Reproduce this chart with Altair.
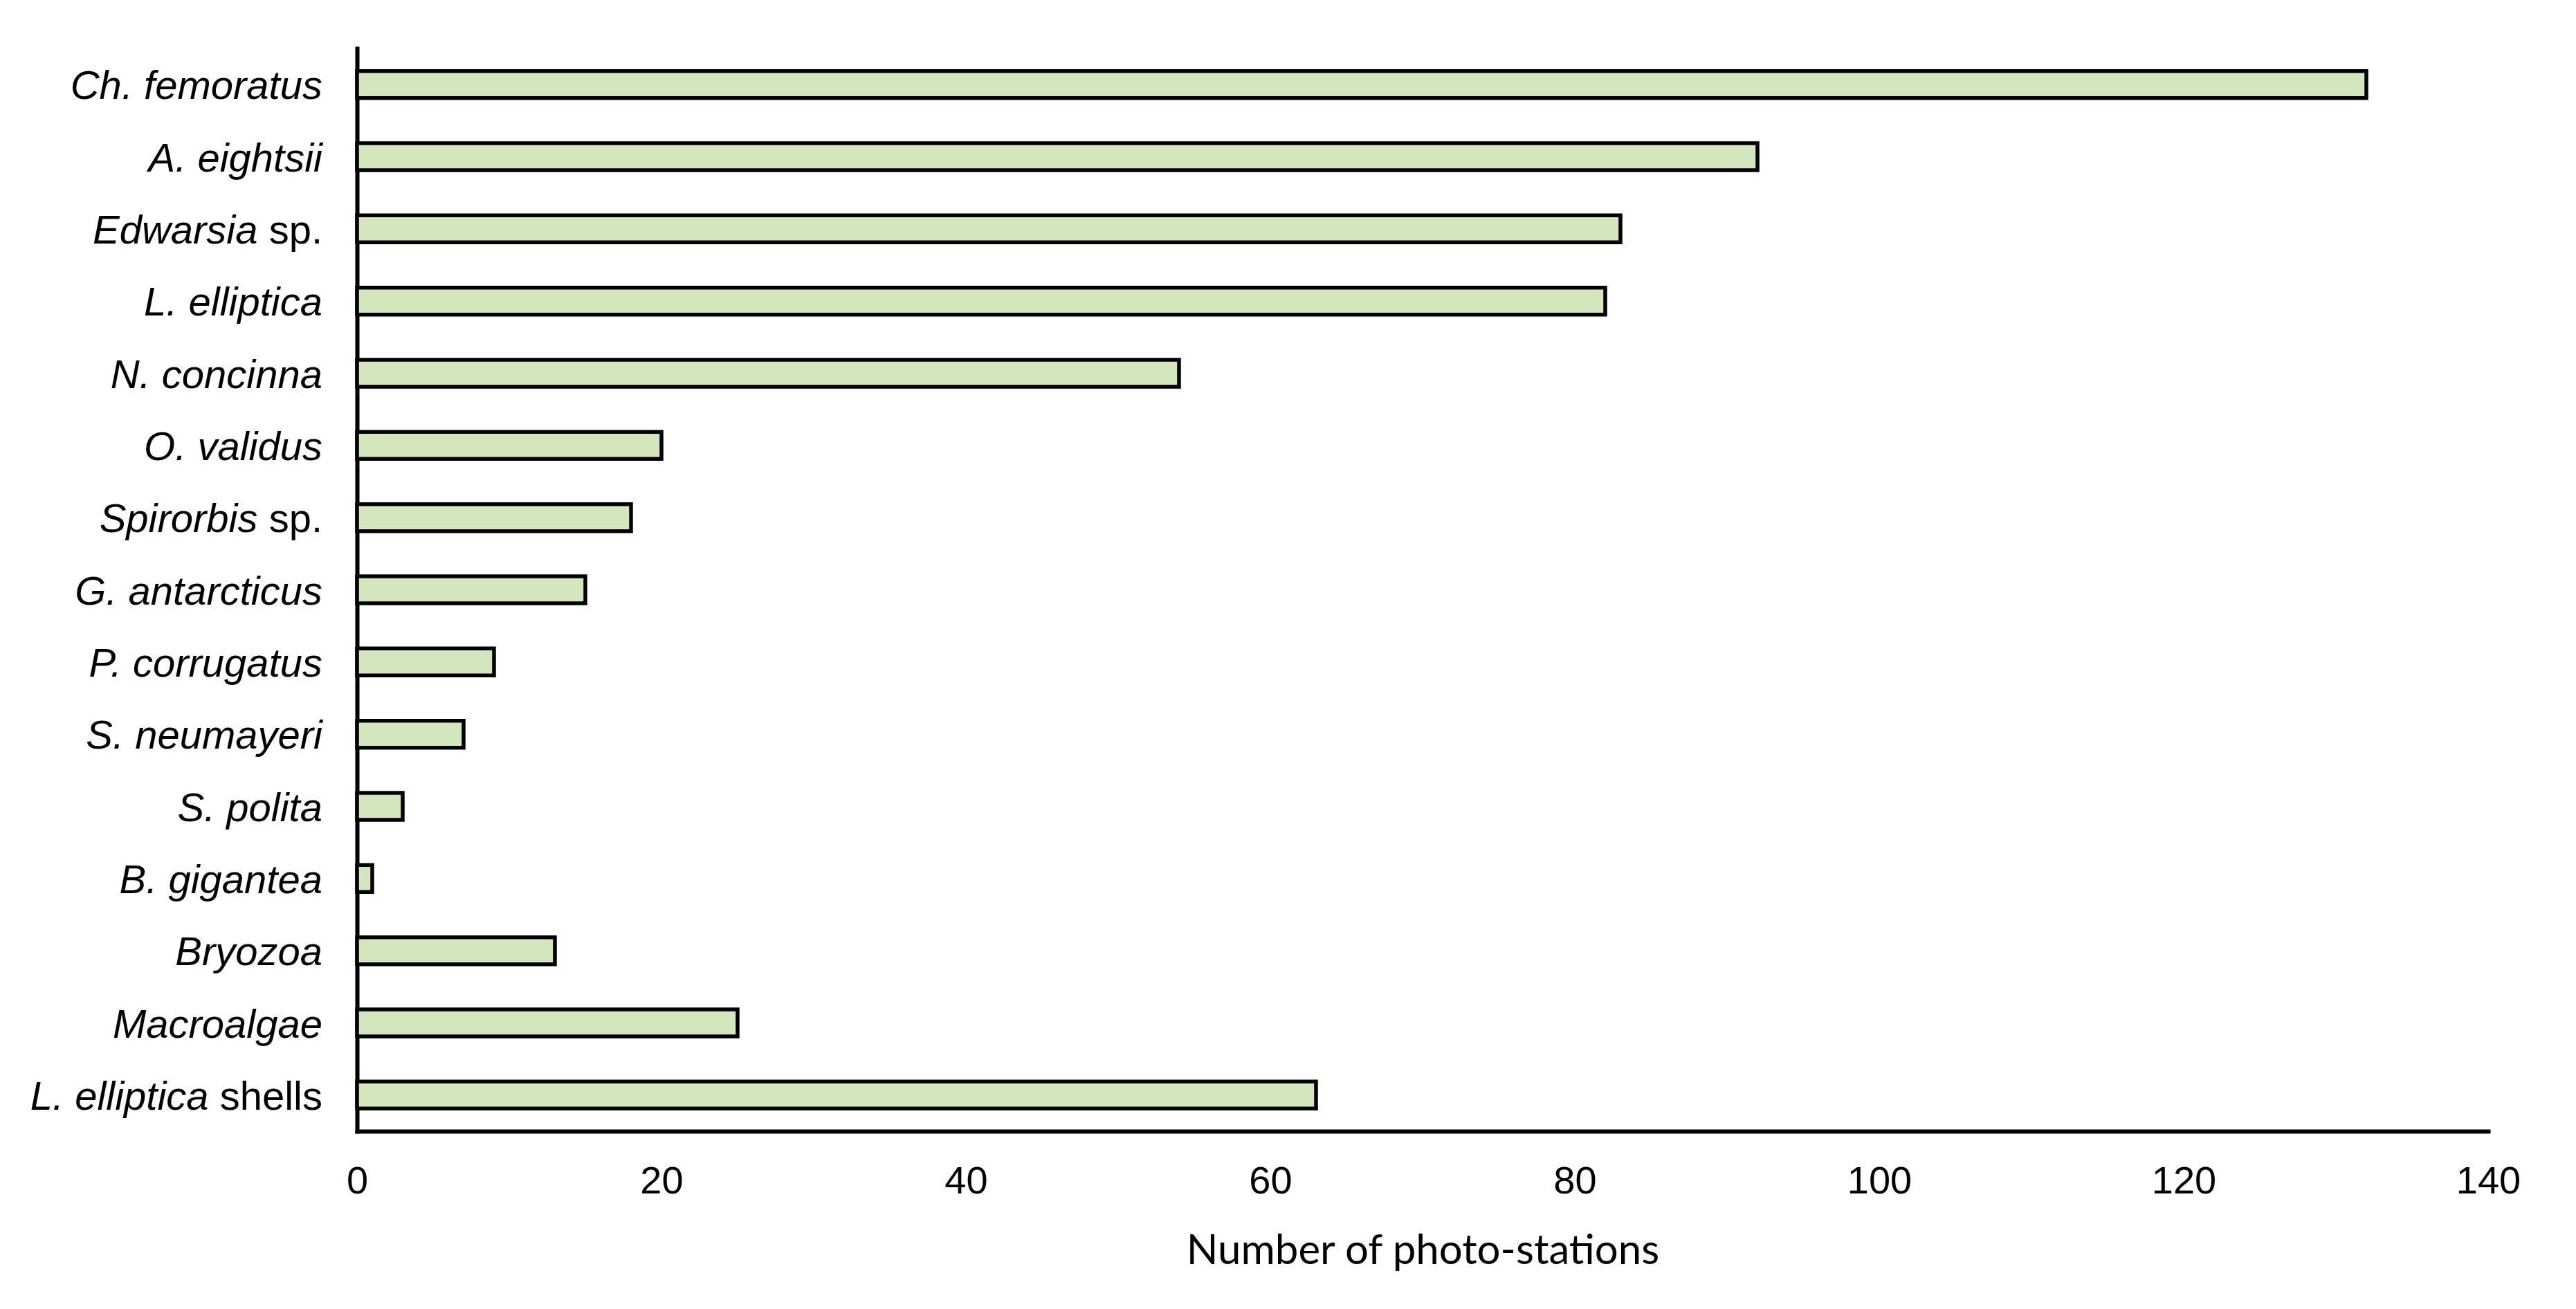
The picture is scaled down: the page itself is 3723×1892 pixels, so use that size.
import altair as alt
import pandas as pd

# ---- data ----
categories = ["Ch. femoratus", "A. eightsii", "Edwarsia sp.", "L. elliptica", "N. concinna",
              "O. validus", "Spirorbis sp.", "G. antarcticus", "P. corrugatus", "S. neumayeri",
              "S. polita", "B. gigantea", "Bryozoa", "Macroalgae", "L. elliptica shells"]
italic_parts = ["Ch. femoratus", "A. eightsii", "Edwarsia", "L. elliptica", "N. concinna",
                "O. validus", "Spirorbis", "G. antarcticus", "P. corrugatus", "S. neumayeri",
                "S. polita", "B. gigantea", "Bryozoa", "Macroalgae", "L. elliptica"]
roman_parts = ["", "", "sp.", "", "", "", "sp.", "", "", "", "", "", "", "", "shells"]
counts = [132, 92, 83, 82, 54, 20, 18, 15, 9, 7, 3, 1, 13, 25, 63]
x_ticks = [0, 20, 40, 60, 80, 100, 120, 140]
x_title = "Number of photo-stations"

# ---- styling ----
W, H = 3080, 1565
LABEL_FS = 58
LABEL_X = -50
FONT = "Liberation Sans"
# approximate Arial advance widths (em) for the roman suffixes
ADV = {"s": 0.5, "p": 0.556, ".": 0.278, "h": 0.556, "e": 0.556, "l": 0.222, " ": 0.278}


def text_width(t):
    return sum(ADV.get(c, 0.55) for c in t) * LABEL_FS


df = pd.DataFrame({"category": categories, "italic": italic_parts,
                   "roman": roman_parts, "count": counts})

y_plain = alt.Y("category:N", sort=categories)

bars = alt.Chart(df).mark_bar(size=39, fill="#d3e6bd", stroke="black", strokeWidth=5.5).encode(
    x=alt.X("count:Q",
            scale=alt.Scale(domain=[0, 140], nice=False),
            axis=alt.Axis(values=x_ticks, grid=False, ticks=False, tickSize=0,
                          domainColor="black", domainWidth=6, domainCap="square",
                          labelFont=FONT, labelFontSize=56, labelColor="black",
                          labelPadding=45, labelFlush=False,
                          title=x_title, titleFont="Lato", titleFontSize=60,
                          titleFontWeight="normal", titleColor="black",
                          titlePadding=44)),
    y=alt.Y("category:N", sort=categories,
            scale=alt.Scale(paddingInner=0, paddingOuter=0),
            axis=alt.Axis(labels=False, ticks=False, title=None, grid=False,
                          domainColor="black", domainWidth=6, domainCap="square")),
)

layers = [bars]

base_text = alt.Chart(df)

# labels that are entirely italic
layers.append(
    base_text.transform_filter(alt.datum.roman == "").mark_text(
        align="right", baseline="middle", font=FONT, fontStyle="italic",
        fontSize=LABEL_FS, color="black", dy=4
    ).encode(x=alt.value(LABEL_X), y=y_plain, text="italic:N")
)

# labels with an upright suffix
for suffix in sorted(set(r for r in roman_parts if r)):
    sub = base_text.transform_filter(alt.datum.roman == suffix)
    layers.append(
        sub.mark_text(align="right", baseline="middle", font=FONT, fontStyle="normal",
                      fontSize=LABEL_FS, color="black", dy=4
                      ).encode(x=alt.value(LABEL_X), y=y_plain, text="roman:N")
    )
    layers.append(
        sub.mark_text(align="right", baseline="middle", font=FONT, fontStyle="italic",
                      fontSize=LABEL_FS, color="black", dy=4,
                      dx=-(text_width(suffix) + text_width(" "))
                      ).encode(x=alt.value(LABEL_X), y=y_plain, text="italic:N")
    )

chart = alt.layer(*layers).properties(
    width=W, height=H,
    background="white",
    autosize=alt.AutoSizeParams(type="none"),
    padding={"left": 508, "top": 62, "right": 100, "bottom": 250},
).configure_view(stroke=None)

chart.save("out.html", embed_options={"renderer": "svg", "actions": False})
